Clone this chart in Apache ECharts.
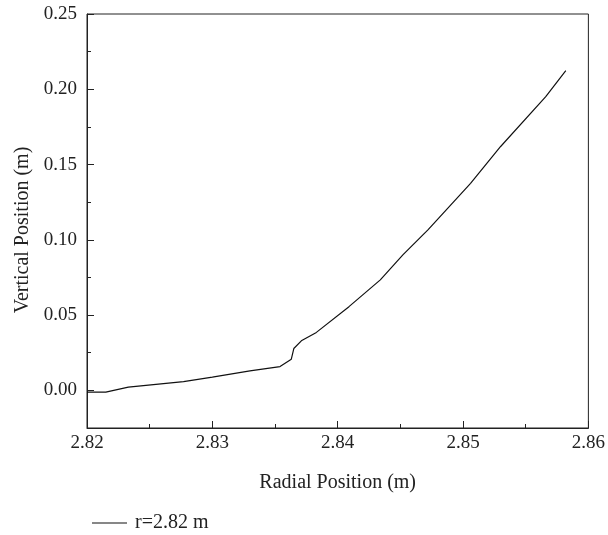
<!DOCTYPE html>
<html>
<head>
<meta charset="utf-8">
<script src="https://cdn.jsdelivr.net/npm/echarts@6/dist/echarts.min.js"></script>
<style>
  html, body { margin: 0; padding: 0; background: #fff; }
  #chart { width: 608px; height: 535px; }
</style>
</head>
<body>
<div id="chart"></div>
<script>
// Free-surface profile: radial position (m) vs vertical position (m)
const seriesName = 'r=2.82 m';
const radialPos = [2.8200, 2.8215, 2.8233, 2.8277, 2.8300, 2.8330, 2.8354, 2.8363, 2.8365, 2.8371, 2.8383, 2.8409, 2.8434, 2.8452, 2.8472, 2.8506, 2.8530, 2.8566, 2.8582];
const verticalPos = [-0.0012, -0.0012, 0.0022, 0.0058, 0.0088, 0.0130, 0.0158, 0.0207, 0.0278, 0.0329, 0.0385, 0.0556, 0.0734, 0.0900, 0.1066, 0.1375, 0.1620, 0.1951, 0.2124];
const xTicks = [2.82, 2.83, 2.84, 2.85, 2.86];
const yTicks = [0.00, 0.05, 0.10, 0.15, 0.20, 0.25];
const yMinorTicks = [0.025, 0.075, 0.125, 0.175, 0.225];

const font = 'Liberation Serif';
const fs = 19;      // tick labels
const fsName = 20;  // axis names and legend
const ink = '#222';

const chart = echarts.init(document.getElementById('chart'));
chart.setOption({
  animation: false,
  backgroundColor: '#fff',
  grid: {
    left: 87, right: 19, top: 14, bottom: 107,
    show: true, borderColor: ink, borderWidth: 1, backgroundColor: 'transparent'
  },
  legend: {
    left: 87, top: 508,
    icon: 'rect', itemWidth: 35, itemHeight: 1,
    textStyle: { fontFamily: font, fontSize: fsName, color: ink, padding: [0, 0, 0, 3] },
    data: [seriesName]
  },
  xAxis: {
    type: 'value',
    min: xTicks[0], max: xTicks[xTicks.length - 1], interval: 0.01,
    name: 'Radial Position (m)', nameLocation: 'middle', nameGap: 45,
    nameTextStyle: { fontFamily: font, fontSize: fsName, color: ink },
    axisLine: { show: true, onZero: false, lineStyle: { color: ink, width: 1 } },
    axisTick: { show: true, inside: true, length: 7, lineStyle: { color: ink } },
    minorTick: { show: true, splitNumber: 2, length: 4, lineStyle: { color: ink } },
    splitLine: { show: false },
    axisLabel: {
      margin: 6, fontFamily: font, fontSize: fs, color: ink,
      formatter: v => v.toFixed(2)
    }
  },
  yAxis: [{
    type: 'value',
    min: -0.025, max: yTicks[yTicks.length - 1],
    name: 'Vertical Position (m)', nameLocation: 'middle', nameGap: 53,
    nameTextStyle: { fontFamily: font, fontSize: fsName, color: ink, padding: [0, 18, 0, 0] },
    axisLine: { show: true, onZero: false, lineStyle: { color: ink, width: 1 } },
    axisTick: { show: true, inside: true, length: 7, lineStyle: { color: ink },
      customValues: yTicks },
    splitLine: { show: false },
    axisLabel: {
      margin: 10, fontFamily: font, fontSize: fs, color: ink,
      customValues: yTicks,
      formatter: v => v.toFixed(2)
    }
  }, {
    // short ticks halfway between the labelled values
    type: 'value',
    position: 'left',
    min: -0.025, max: yTicks[yTicks.length - 1],
    axisLine: { show: false, onZero: false },
    axisTick: { show: true, inside: true, length: 4, lineStyle: { color: ink },
      customValues: yMinorTicks },
    axisLabel: { show: false },
    splitLine: { show: false }
  }],
  series: [{
    name: seriesName,
    type: 'line',
    yAxisIndex: 0,
    showSymbol: false,
    symbol: 'none',
    color: '#111',
    lineStyle: { color: '#111', width: 1.2 },
    data: radialPos.map((x, i) => [x, verticalPos[i]])
  }]
});
</script>
</body>
</html>
